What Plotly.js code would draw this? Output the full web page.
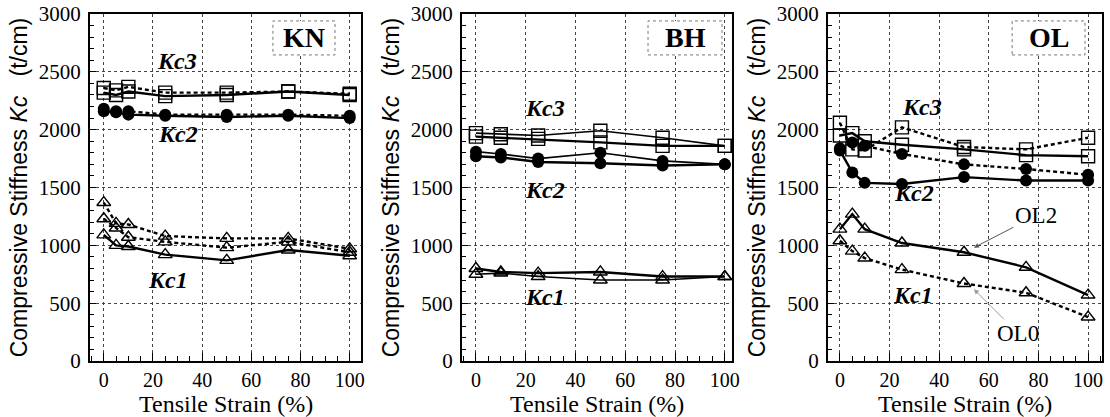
<!DOCTYPE html>
<html>
<head>
<meta charset="utf-8">
<script src="https://cdn.plot.ly/plotly-3.0.1.min.js"></script>
<style>html,body{margin:0;padding:0;background:#fff;}#chart{width:1110px;height:417px;}</style>
</head>
<body>
<div id="chart"></div>
<script>
// ---- data ----
const strainKN = [0, 5, 10, 25, 50, 75, 100];
const knKc3Solid = [2320, 2300, 2330, 2290, 2300, 2330, 2300];
const knKc3Dash  = [2360, 2340, 2370, 2320, 2320, 2330, 2310];
const knKc2Solid = [2160, 2150, 2130, 2120, 2110, 2120, 2100];
const knKc2Dash  = [2180, 2160, 2160, 2130, 2130, 2130, 2120];
const knKc1Solid = [1090, 1000, 990, 920, 870, 960, 910];
const knKc1DashA = [1370, 1190, 1180, 1080, 1060, 1060, 970];
const knKc1DashB = [1230, 1150, 1070, 1030, 980, 1030, 940];

const strainBH = [0, 10, 25, 50, 75, 100];
const bhKc3Upper = [1970, 1960, 1950, 1990, 1930, 1860];
const bhKc3Lower = [1940, 1930, 1920, 1890, 1860, 1860];
const bhKc2Upper = [1810, 1790, 1750, 1800, 1730, 1700];
const bhKc2Lower = [1770, 1760, 1720, 1710, 1690, 1700];
const bhKc1Upper = [800, 770, 760, 770, 730, 730];
const bhKc1Lower = [750, 760, 730, 700, 700, 730];

const strainOL = [0, 5, 10, 25, 50, 75, 100];
const olKc3OL2 = [1950, 1970, 1900, 1870, 1830, 1780, 1770];
const olKc3OL0 = [2060, 1830, 1820, 2020, 1850, 1830, 1930];
const olKc2OL2 = [1820, 1630, 1540, 1530, 1590, 1560, 1560];
const olKc2OL0 = [1840, 1890, 1860, 1790, 1700, 1660, 1610];
const olKc1OL2 = [1140, 1270, 1140, 1020, 940, 810, 570];
const olKc1OL0 = [1040, 950, 890, 790, 670, 590, 380];

const panelLabels = ['KN', 'BH', 'OL'];
const xTickVals = [0, 20, 40, 60, 80, 100];
const yTickVals = [0, 500, 1000, 1500, 2000, 2500, 3000];
const xTitle = 'Tensile Strain (%)';
const yTitle = 'Compressive Stiffness <i>Kc</i>\u00a0\u00a0\u00a0(t/cm)';

// ---- styles ----
const SOLID = {color: '#000', width: 2.4, dash: 'solid'};
const THIN = {color: '#000', width: 1.6, dash: 'solid'};
const DASH = {color: '#000', width: 2.4, dash: '4px,3px'};
const SQ = {symbol: 'square-open', size: 13, color: '#000', line: {width: 1.4, color: '#000'}};
const CI = {symbol: 'circle', size: 12, color: '#000'};
const TR = {symbol: 'triangle-up-open', size: 12, color: '#000', line: {width: 1.4, color: '#000'}};

function sfx(ax) { return ax === 1 ? '' : String(ax); }
function tr(x, y, line, marker, ax) {
  return {x: x, y: y, mode: 'lines+markers', line: line, marker: marker,
    xaxis: 'x' + sfx(ax), yaxis: 'y' + sfx(ax), showlegend: false, hoverinfo: 'x+y'};
}

const data = [
  tr(strainKN, knKc3Dash, DASH, SQ, 1),
  tr(strainKN, knKc3Solid, SOLID, SQ, 1),
  tr(strainKN, knKc2Dash, DASH, CI, 1),
  tr(strainKN, knKc2Solid, SOLID, CI, 1),
  tr(strainKN, knKc1DashA, DASH, TR, 1),
  tr(strainKN, knKc1DashB, DASH, TR, 1),
  tr(strainKN, knKc1Solid, SOLID, TR, 1),

  tr(strainBH, bhKc3Upper, THIN, SQ, 2),
  tr(strainBH, bhKc3Lower, SOLID, SQ, 2),
  tr(strainBH, bhKc2Upper, THIN, CI, 2),
  tr(strainBH, bhKc2Lower, SOLID, CI, 2),
  tr(strainBH, bhKc1Upper, SOLID, TR, 2),
  tr(strainBH, bhKc1Lower, THIN, TR, 2),

  tr(strainOL, olKc3OL0, DASH, SQ, 3),
  tr(strainOL, olKc3OL2, SOLID, SQ, 3),
  tr(strainOL, olKc2OL0, DASH, CI, 3),
  tr(strainOL, olKc2OL2, SOLID, CI, 3),
  tr(strainOL, olKc1OL0, DASH, TR, 3),
  tr(strainOL, olKc1OL2, SOLID, TR, 3)
];

const serif = 'Liberation Serif';
const sans = 'Liberation Sans';

function xAxis(domain, range, anchor) {
  return {
    domain: domain, range: range, anchor: anchor,
    tickvals: xTickVals, ticks: 'inside', ticklen: 8, tickwidth: 1, tickcolor: '#000',
    minor: {dtick: 5, tick0: 0, ticks: 'inside', ticklen: 5, tickcolor: '#000', showgrid: false},
    showgrid: true, gridcolor: '#444', gridwidth: 1, griddash: 'dot',
    showline: true, linecolor: '#000', linewidth: 2, mirror: true, zeroline: false,
    tickfont: {family: serif, size: 20, color: '#000'}
  };
}
function yAxis(anchor) {
  return {
    domain: [0, 1], range: [0, 3000], anchor: anchor,
    tickvals: yTickVals, ticks: 'inside', ticklen: 6, tickwidth: 1, tickcolor: '#000',
    minor: {dtick: 100, tick0: 0, ticks: 'inside', ticklen: 4, tickcolor: '#000', showgrid: false},
    showgrid: true, gridcolor: '#444', gridwidth: 1, griddash: 'dot',
    showline: true, linecolor: '#000', linewidth: 2, mirror: true, zeroline: false,
    tickfont: {family: serif, size: 21, color: '#000'}, ticklabelstandoff: 3,
    title: {text: yTitle, font: {family: sans, size: 23, color: '#000'}, standoff: 5}
  };
}

const W = 1012, L = 90;
const d1 = [0, (361 - L) / W];
const d2 = [(462 - L) / W, (732 - L) / W];
const d3 = [(828 - L) / W, 1];

function kc(text, x, y, ax) {
  return {text: text, x: x, y: y, xref: 'x' + sfx(ax), yref: 'y' + sfx(ax),
    xanchor: 'center', yanchor: 'middle', showarrow: false,
    font: {family: serif, size: 24, color: '#000', weight: 'bold', style: 'italic'}};
}
function boxLabel(text, xc, ax) {
  return {text: text, x: xc, y: 0.931, xref: 'x' + sfx(ax) + ' domain', yref: 'y' + sfx(ax) + ' domain',
    xanchor: 'center', yanchor: 'middle', showarrow: false,
    font: {family: serif, size: 28, color: '#000', weight: 'bold'}};
}
function xTitleAnn(ax) {
  return {text: xTitle, x: 0.5, y: -0.125, xref: 'x' + sfx(ax) + ' domain', yref: 'paper',
    xanchor: 'center', yanchor: 'middle', showarrow: false,
    font: {family: serif, size: 24, color: '#000'}};
}
function boxShape(x0, x1, ax) {
  return {type: 'rect', xref: 'x' + sfx(ax) + ' domain', yref: 'y' + sfx(ax) + ' domain',
    x0: x0, x1: x1, y0: 0.882, y1: 0.98, line: {color: '#777', width: 1, dash: 'dot'}, fillcolor: '#fff', layer: 'above'};
}

const layout = {
  width: 1110, height: 417,
  margin: {l: L, r: 8, t: 14, b: 56},
  font: {family: serif, color: '#000'},
  paper_bgcolor: '#fff', plot_bgcolor: '#fff',
  showlegend: false,
  xaxis: xAxis(d1, [-5.6, 104.6], 'y'),
  xaxis2: xAxis(d2, [-5.6, 102.9], 'y2'),
  xaxis3: xAxis(d3, [-4.8, 105.6], 'y3'),
  yaxis: yAxis('x'),
  yaxis2: yAxis('x2'),
  yaxis3: yAxis('x3'),
  shapes: [
    boxShape(0.675, 0.904, 1),
    boxShape(0.689, 0.963, 2),
    boxShape(0.672, 0.938, 3)
  ],
  annotations: [
    xTitleAnn(1), xTitleAnn(2), xTitleAnn(3),
    boxLabel(panelLabels[0], 0.79, 1),
    boxLabel(panelLabels[1], 0.826, 2),
    boxLabel(panelLabels[2], 0.805, 3),
    kc('Kc3', 29.7, 2590, 1), kc('Kc2', 30, 1960, 1), kc('Kc1', 26, 700, 1),
    kc('Kc3', 27.7, 2190, 2), kc('Kc2', 27.7, 1480, 2), kc('Kc1', 27.7, 555, 2),
    kc('Kc3', 33, 2200, 3), kc('Kc2', 30, 1456, 3), kc('Kc1', 29.5, 572, 3),
    {text: 'OL2', x: 54, y: 980, xref: 'x3', yref: 'y3', showarrow: true, ax: 62, ay: -32,
     arrowhead: 2, arrowsize: 1, arrowwidth: 1, arrowcolor: '#555', font: {family: serif, size: 23, color: '#000'}},
    {text: 'OL0', x: 54, y: 620, xref: 'x3', yref: 'y3', showarrow: true, ax: 44, ay: 44,
     arrowhead: 2, arrowsize: 1, arrowwidth: 1, arrowcolor: '#999', font: {family: serif, size: 23, color: '#000'}}
  ]
};

Plotly.newPlot('chart', data, layout, {displayModeBar: false, staticPlot: true});
</script>
</body>
</html>
